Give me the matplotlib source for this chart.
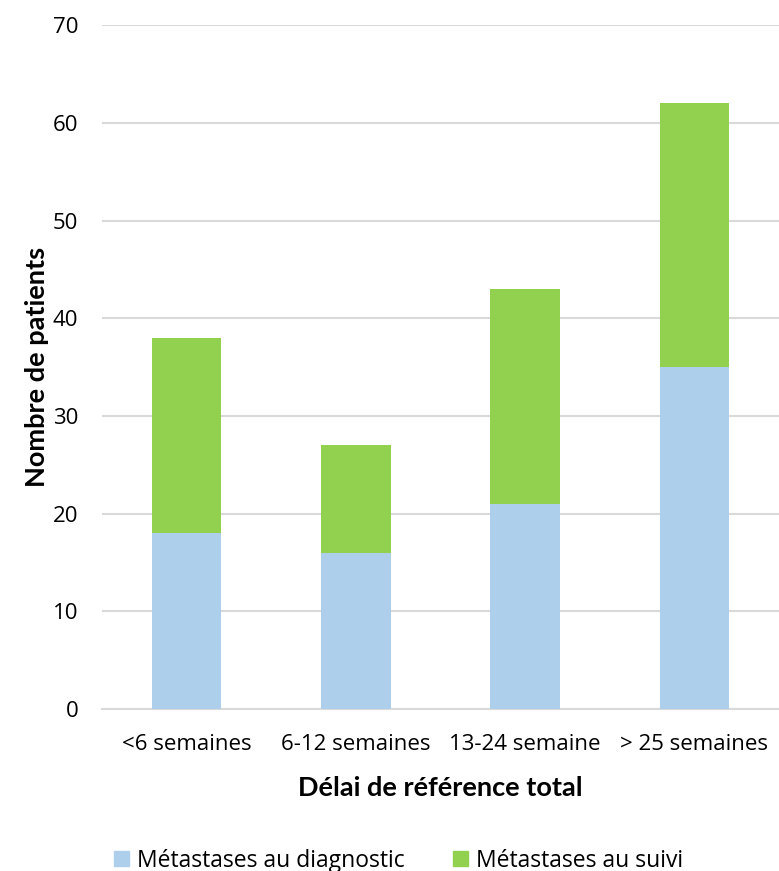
import numpy as np
import matplotlib.pyplot as plt
from matplotlib.patches import Patch

categories = ["<6 semaines", "6-12 semaines", "13-24 semaine", "> 25 semaines"]
diagnostic = [18, 16, 21, 35]
suivi = [20, 11, 22, 27]
series_labels = ["Métastases au diagnostic", "Métastases au suivi"]

blue = "#ADCFEC"
green = "#92D050"
grid_grey = "#D9D9D9"

plt.rcParams["font.family"] = ["Open Sans", "DejaVu Sans"]

fig = plt.figure(figsize=(7.79, 8.71), dpi=100)
ax = fig.add_axes([0.131, 0.186, 0.869, 0.785])

x = np.arange(len(categories))
w = 0.41
ax.bar(x, diagnostic, w, color=blue, zorder=3)
ax.bar(x, suivi, w, bottom=diagnostic, color=green, zorder=3)

ax.set_xlim(-0.5, len(categories) - 0.5)
ax.set_ylim(0, 70)
ax.set_yticks(range(0, 71, 10))
ax.yaxis.grid(True, color=grid_grey, linewidth=1.5, zorder=0)
ax.set_axisbelow(True)
for side in ["top", "right", "left"]:
    ax.spines[side].set_visible(False)
ax.spines["bottom"].set_color(grid_grey)
ax.spines["bottom"].set_linewidth(1.5)
ax.tick_params(axis="both", length=0, labelsize=16, colors="black")
ax.tick_params(axis="x", pad=18)
ax.tick_params(axis="y", pad=17)
ax.set_xticks(x)
ax.set_xticklabels(categories)

ax.set_xlabel("Délai de référence total", fontsize=19.5, fontweight="bold",
              family=["Lato", "DejaVu Sans"], labelpad=15)
ax.set_ylabel("Nombre de patients", fontsize=19.5, fontweight="bold",
              family=["Lato", "DejaVu Sans"], labelpad=3)

handles = [Patch(color=blue), Patch(color=green)]
fig.legend(handles, series_labels, loc="center", bbox_to_anchor=(0.512, 0.012),
           ncol=2, frameon=False, fontsize=16.5, handlelength=0.65, handleheight=0.65,
           handletextpad=0.35, columnspacing=2.1, borderpad=0)

fig.savefig("out.png", dpi=100)
